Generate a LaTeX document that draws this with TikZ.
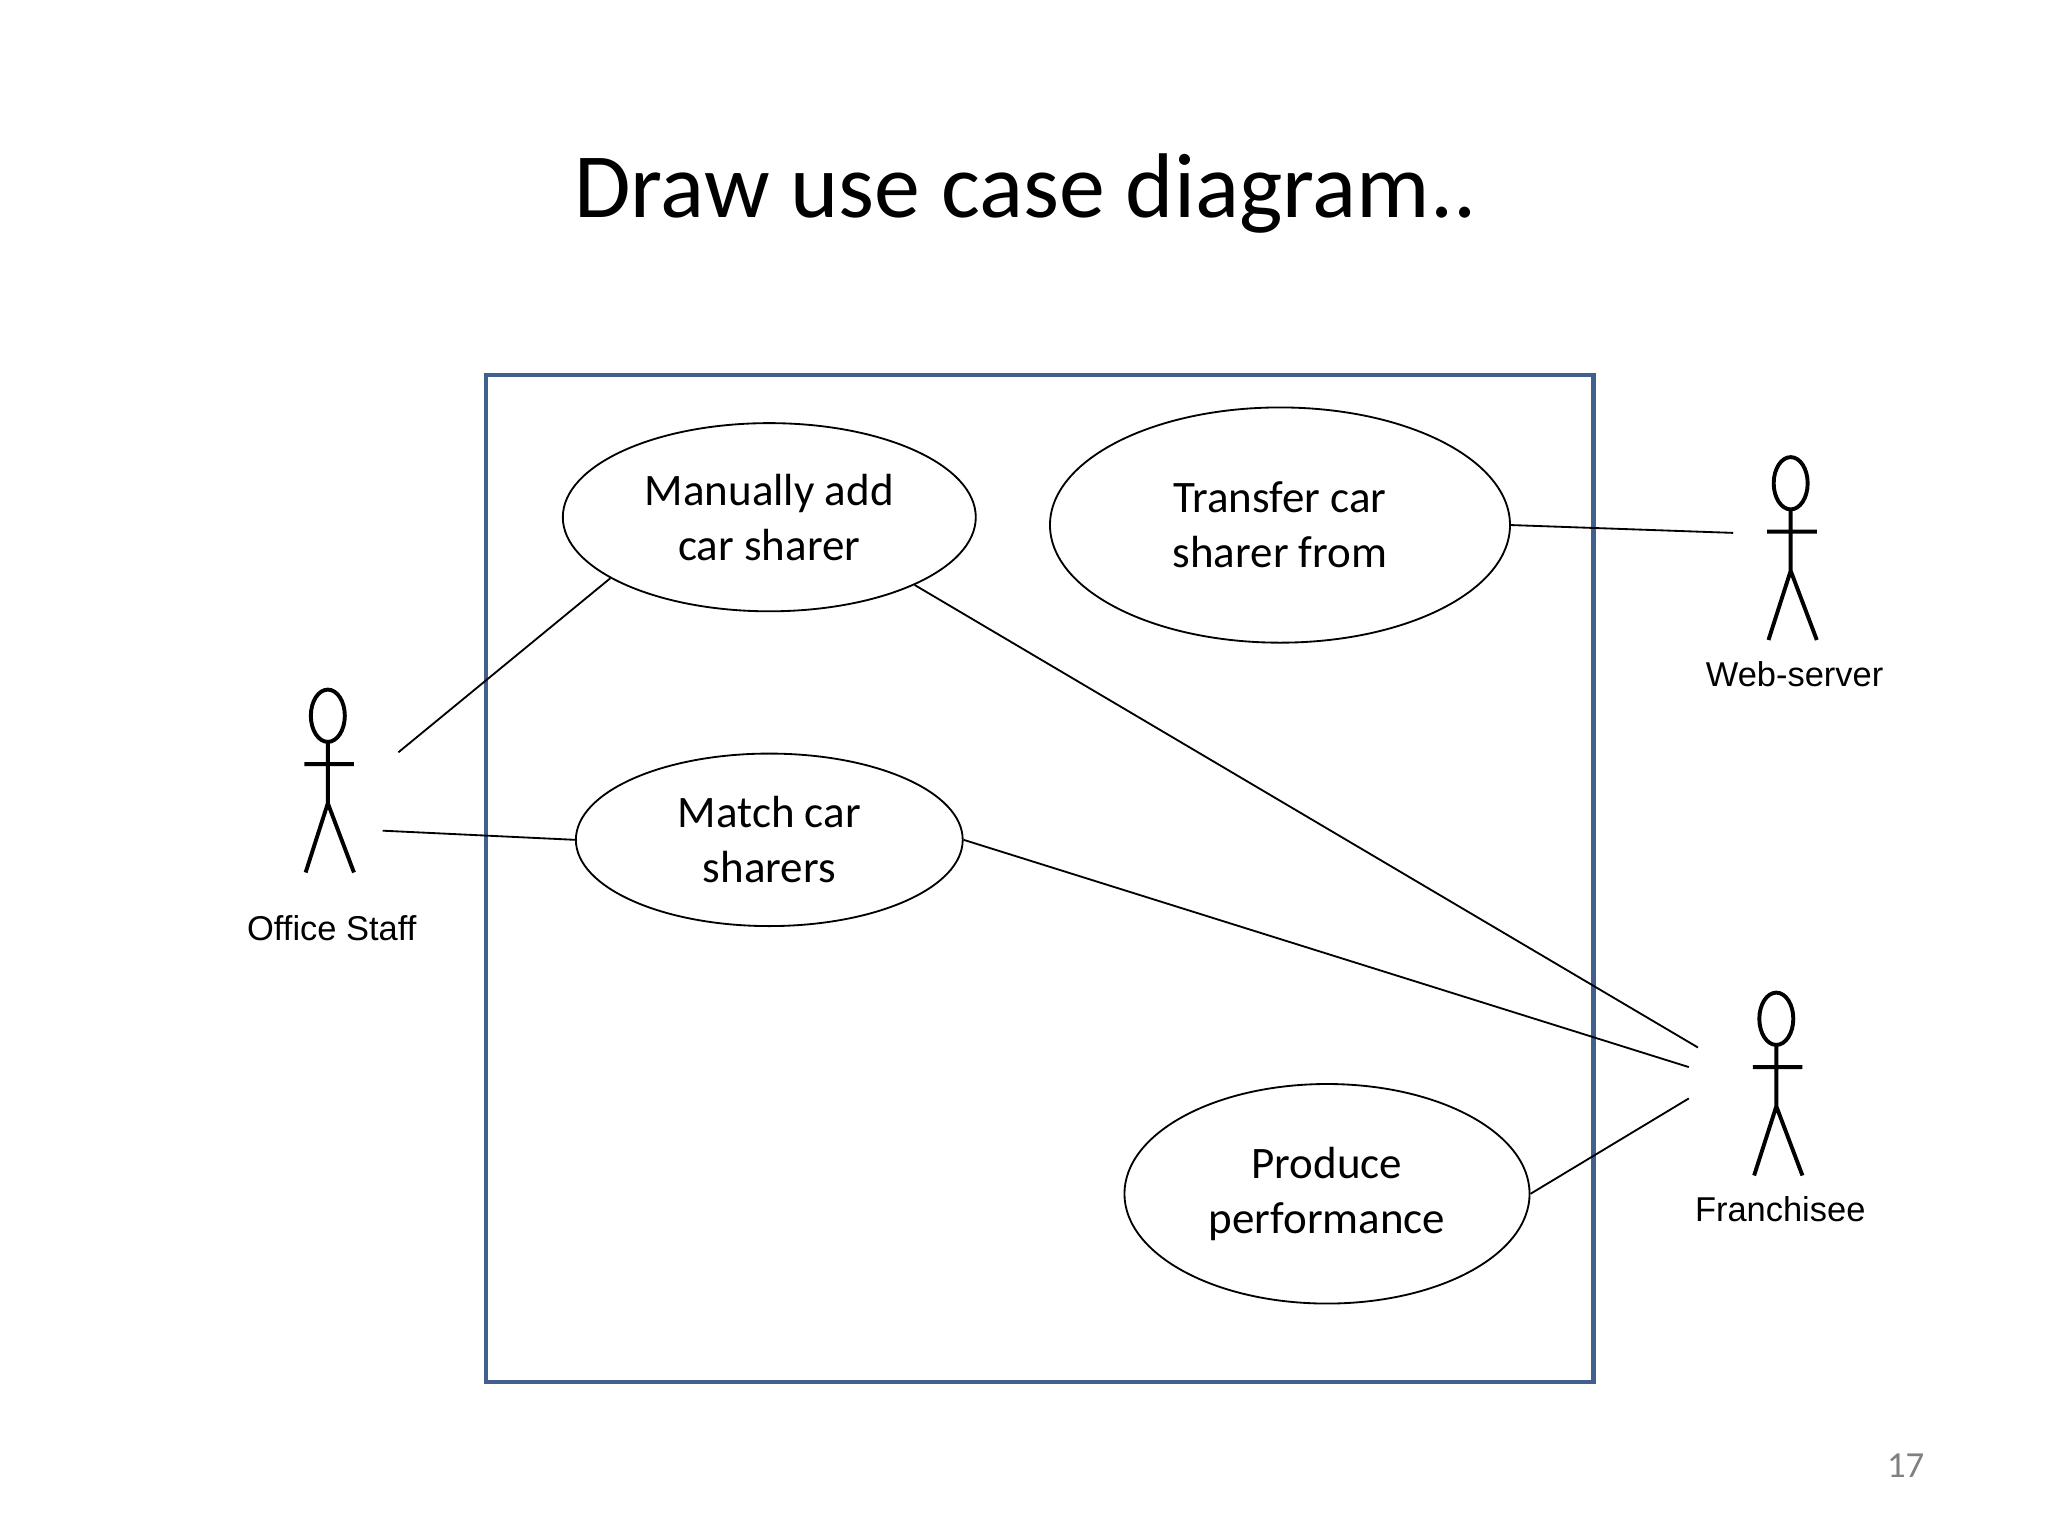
\documentclass[tikz,border=0pt]{standalone}
\usepackage{fontspec}
\setmainfont{Carlito}
\newfontfamily\arialfont{Liberation Sans}
\usetikzlibrary{shapes.geometric}
\definecolor{sysblue}{HTML}{41608F}

\begin{document}
\begin{tikzpicture}[x=0.01cm,y=-0.01cm]
    \tikzstyle{usecase}=[ellipse,draw=black,inner sep=0pt,align=center,font=\fontsize{9.8}{11.9}\selectfont]
    \tikzstyle{alabel}=[font=\arialfont\fontsize{7.5}{8}\selectfont]

    \path[use as bounding box] (0,0) rectangle (1568,1176);

    \node[font=\fontsize{20}{24}\selectfont] (title) at (785,148) {Draw use case diagram..};
    \draw[sysblue,line width=0.9pt,fill=white] (372,287) rectangle (1220,1058);

    \node[usecase,minimum width=3.16cm,minimum height=1.44cm] (manual) at (589,396) {Manually add\\car sharer};
    \node[usecase,minimum width=3.52cm,minimum height=1.80cm] (transfer) at (980,402) {Transfer car\\sharer from};
    \node[usecase,minimum width=2.96cm,minimum height=1.32cm] (match) at (589,643) {Match car\\sharers};
    \node[usecase,minimum width=3.10cm,minimum height=1.68cm] (produce) at (1016,914) {Produce\\performance};

    \newcommand{\stickman}[5]{%
      \draw[line width=0.85pt] (#2,#3) ellipse (0.13cm and 0.2cm);
      \draw[line width=0.85pt] (#2,#3+20) -- (#2,#3+67)
        (#2-18,#3+37) -- (#2+20,#3+37)
        (#2-17,#3+120) -- (#2,#3+67) -- (#2+20,#3+120);
      \node[alabel] (#1) at (#2+3,#3+#5) {#4};}

    \stickman{staff}{251}{548}{Office Staff}{163}
    \stickman{web}{1371}{370}{Web-server}{146}
    \stickman{fran}{1360}{780}{Franchisee}{146}

    \coordinate (staffA) at (305,576);
    \coordinate (staffB) at (293,636);
    \coordinate (webA) at (1327,408);
    \coordinate (franA) at (1300,802);
    \coordinate (franB) at (1293,817);
    \coordinate (franC) at (1293,841);

    \draw (staffA) -- (manual.201);
    \draw (staffB) -- (match.west);
    \draw (transfer.east) -- (webA);
    \draw (manual.335) -- (franA);
    \draw (match.east) -- (franB);
    \draw (produce.east) -- (franC);

    \node[text=gray,font=\fontsize{8}{9}\selectfont] (page) at (1459,1122) {17};
\end{tikzpicture}
\end{document}
